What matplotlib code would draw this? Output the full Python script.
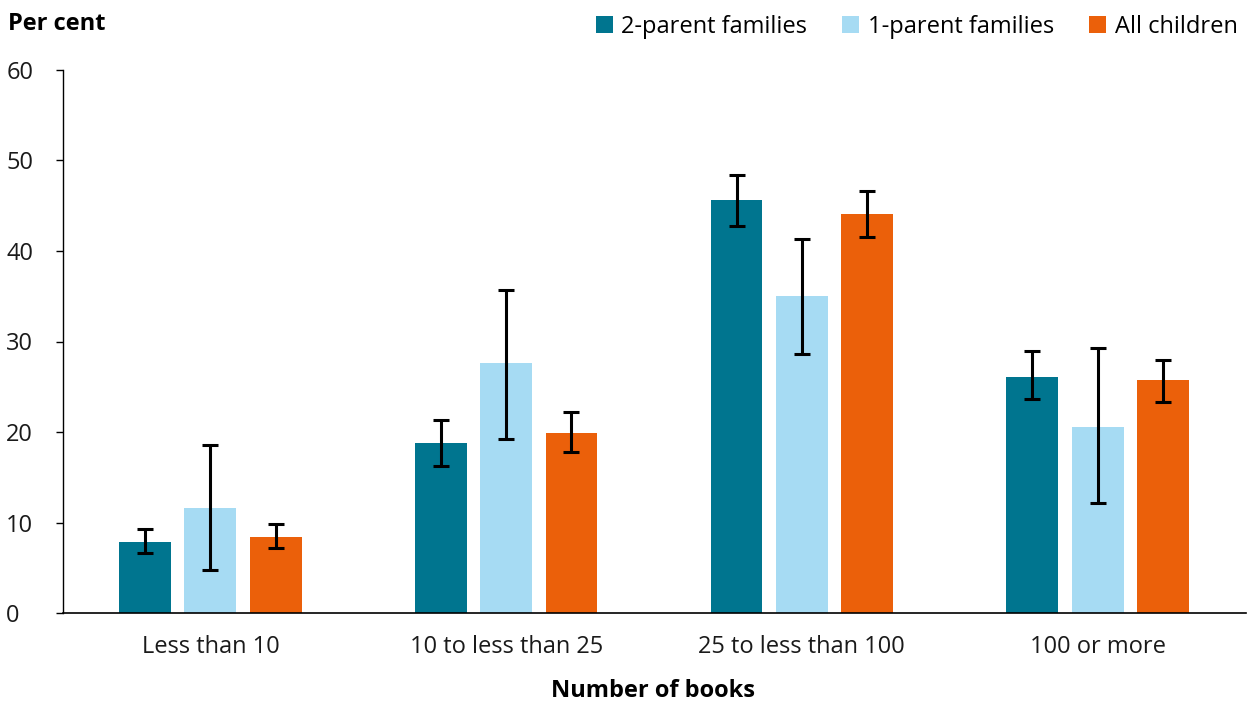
import matplotlib
matplotlib.use("Agg")
import matplotlib.pyplot as plt
import numpy as np
from matplotlib.patches import Patch

plt.rcParams['font.family'] = ['Open Sans', 'DejaVu Sans']

categories = ["Less than 10", "10 to less than 25", "25 to less than 100", "100 or more"]
series_names = ["2-parent families", "1-parent families", "All children"]
two_parent = [7.8, 18.75, 45.6, 26.1]
two_parent_lo = [6.6, 16.2, 42.8, 23.6]
two_parent_hi = [9.3, 21.3, 48.4, 28.9]
one_parent = [11.6, 27.6, 35.0, 20.5]
one_parent_lo = [4.8, 19.2, 28.65, 12.1]
one_parent_hi = [18.6, 35.7, 41.3, 29.25]
all_children = [8.4, 19.9, 44.1, 25.8]
all_children_lo = [7.15, 17.75, 41.6, 23.35]
all_children_hi = [9.8, 22.2, 46.6, 28.0]
colors = ["#00758F", "#A6DBF3", "#EB600A"]

FS = 17

fig = plt.figure(figsize=(12.47, 7.02), dpi=100)
ax = fig.add_axes([62.5/1247, 89/702, 1183/1247, (613-70)/702])

x = np.arange(len(categories))
offsets = [-0.221, 0.0, 0.221]
width = 0.175
data = [(two_parent, two_parent_lo, two_parent_hi),
        (one_parent, one_parent_lo, one_parent_hi),
        (all_children, all_children_lo, all_children_hi)]
for (vals, lo, hi), off, c in zip(data, offsets, colors):
    vals = np.array(vals); lo = np.array(lo); hi = np.array(hi)
    ax.bar(x + off, vals, width, color=c, zorder=2)
    ax.errorbar(x + off, vals, yerr=[vals - lo, hi - vals], fmt='none',
                ecolor='black', elinewidth=2.2, capsize=5.5, capthick=2.2, zorder=3)

ax.set_xlim(-0.5, 3.5)
ax.set_ylim(0, 60)
ax.set_yticks([0, 10, 20, 30, 40, 50, 60])
ax.set_xticks(x)
ax.set_xticklabels(categories)
ax.tick_params(axis='x', length=0, labelsize=FS, pad=16, colors='#1a1a1a')
ax.tick_params(axis='y', length=5, width=1, labelsize=FS, pad=35.5, colors='black')
for lbl in ax.get_yticklabels():
    lbl.set_color('#1a1a1a')
    lbl.set_horizontalalignment('left')
ax.spines['top'].set_visible(False)
ax.spines['right'].set_visible(False)
ax.spines['left'].set_linewidth(1)
ax.spines['bottom'].set_linewidth(1.2)

fig.text(8/1247, 1 - 24/702, "Per cent", fontsize=FS, fontweight='bold', va='center', ha='left')
fig.text(653/1247, 1 - 691/702, "Number of books", fontsize=FS, fontweight='bold', va='center', ha='center')

handles = [Patch(facecolor=c, edgecolor='none') for c in colors]
fig.legend(handles, series_names, loc='upper right', bbox_to_anchor=(1.0 + 7/1247, 1.002), ncol=3,
           frameon=False, fontsize=FS, handlelength=0.72, handleheight=0.72,
           handletextpad=0.35, columnspacing=1.5, borderaxespad=0.3)

fig.savefig("out.png", dpi=100)
